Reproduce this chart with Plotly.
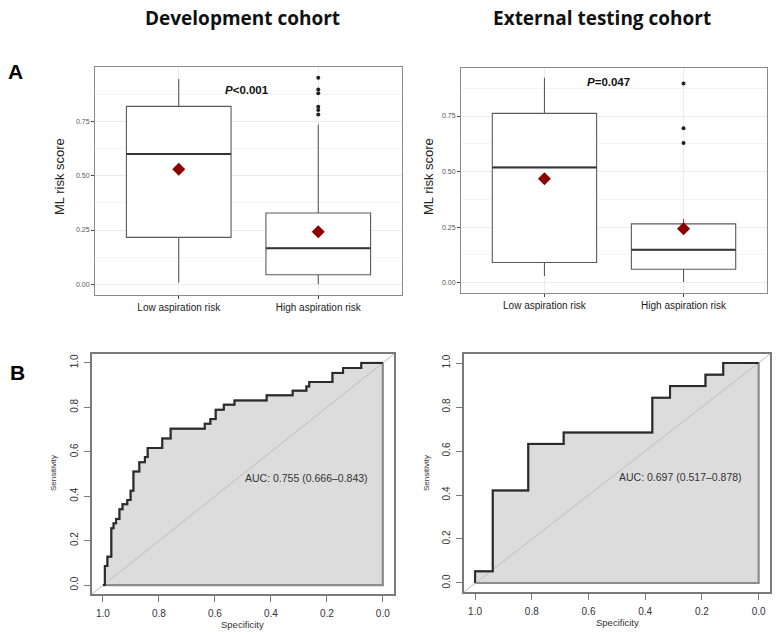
import plotly.graph_objects as go

W, H = 778, 634

# ---------------- data ----------------
categories = ["Low aspiration risk", "High aspiration risk"]

dev_q1 = [0.216, 0.044]
dev_median = [0.600, 0.166]
dev_q3 = [0.819, 0.328]
dev_lower = [0.009, 0.000]
dev_upper = [0.945, 0.736]
dev_mean = [0.529, 0.242]
dev_outliers_high = [0.951, 0.897, 0.879, 0.817, 0.802, 0.782]

ext_q1 = [0.091, 0.061]
ext_median = [0.519, 0.149]
ext_q3 = [0.762, 0.265]
ext_lower = [0.031, 0.004]
ext_upper = [0.922, 0.288]
ext_mean = [0.468, 0.243]
ext_outliers_high = [0.896, 0.695, 0.629]

dev_spec = [1.0, 0.993, 0.984, 0.970, 0.962, 0.953, 0.941, 0.930, 0.913, 0.901,
            0.891, 0.870, 0.850, 0.840, 0.788, 0.758, 0.636, 0.616, 0.597, 0.568,
            0.530, 0.415, 0.322, 0.273, 0.263, 0.180, 0.142, 0.077, 0.0]
dev_sens = [0.0, 0.086, 0.128, 0.256, 0.278, 0.298, 0.341, 0.364, 0.383, 0.425,
            0.511, 0.553, 0.576, 0.617, 0.660, 0.704, 0.726, 0.747, 0.789, 0.812,
            0.831, 0.854, 0.875, 0.894, 0.914, 0.955, 0.977, 1.0, 1.0]

ext_spec = [1.0, 1.0, 0.9375, 0.8125, 0.6875, 0.375, 0.3125, 0.1875, 0.125, 0.0]
ext_sens = [0.0, 0.053, 0.421, 0.632, 0.684, 0.842, 0.895, 0.947, 1.0, 1.0]

dev_auc_text = "AUC: 0.755 (0.666–0.843)"
ext_auc_text = "AUC: 0.697 (0.517–0.878)"
roc_ticks = [1.0, 0.8, 0.6, 0.4, 0.2, 0.0]
box_ticks = [0.0, 0.25, 0.5, 0.75]

BOX_W = 0.75

# ---------------- helpers ----------------
def xd(a, b):
    return [a / W, b / W]

def yd(top, bottom):
    return [1 - bottom / H, 1 - top / H]

def px(x):
    return x / W

def py(y):
    return 1 - y / H

fig = go.Figure()

def add_box_panel(xa, ya, q1, med, q3, lo, hi, mean, outl):
    for i in range(len(categories)):
        fig.add_trace(go.Box(
            x=[i], q1=[q1[i]], median=[med[i]], q3=[q3[i]],
            lowerfence=[lo[i]], upperfence=[hi[i]],
            width=BOX_W, whiskerwidth=0, boxpoints=False,
            fillcolor="white", line=dict(color="#5a5a5a", width=1.1),
            xaxis=xa, yaxis=ya, showlegend=False, hoverinfo="skip"))
        fig.add_trace(go.Scatter(
            x=[i - BOX_W / 2, i + BOX_W / 2], y=[med[i], med[i]],
            mode="lines", line=dict(color="#333333", width=2),
            xaxis=xa, yaxis=ya, showlegend=False, hoverinfo="skip"))
    fig.add_trace(go.Scatter(
        x=[1] * len(outl), y=outl, mode="markers",
        marker=dict(color="#222222", size=4),
        xaxis=xa, yaxis=ya, showlegend=False))
    fig.add_trace(go.Scatter(
        x=list(range(len(categories))), y=mean, mode="markers",
        marker=dict(color="#8B0000", size=10, symbol="diamond"),
        xaxis=xa, yaxis=ya, showlegend=False))

add_box_panel("x", "y", dev_q1, dev_median, dev_q3, dev_lower, dev_upper, dev_mean, dev_outliers_high)
add_box_panel("x2", "y2", ext_q1, ext_median, ext_q3, ext_lower, ext_upper, ext_mean, ext_outliers_high)

def add_roc_panel(xa, ya, spec, sens, xr, yr):
    # polygon (area under curve)
    fig.add_trace(go.Scatter(
        x=spec + [0.0, 1.0], y=sens + [0.0, 0.0], mode="lines",
        line=dict(color="#8c8c8c", width=2.2, shape="hv"),
        fill="toself", fillcolor="#DCDCDC",
        xaxis=xa, yaxis=ya, showlegend=False, hoverinfo="skip"))
    # diagonal reference
    fig.add_trace(go.Scatter(
        x=[xr[0], xr[1]], y=[yr[0], yr[1]], mode="lines",
        line=dict(color="#BDBDBD", width=1),
        xaxis=xa, yaxis=ya, showlegend=False, hoverinfo="skip"))
    # ROC curve
    fig.add_trace(go.Scatter(
        x=spec, y=sens, mode="lines",
        line=dict(color="#2b2b2b", width=2, shape="hv"),
        xaxis=xa, yaxis=ya, showlegend=False))

add_roc_panel("x3", "y3", dev_spec, dev_sens, [1.039, -0.04], [-0.04, 1.04])
add_roc_panel("x4", "y4", ext_spec, ext_sens, [1.039, -0.04], [-0.041, 1.041])

# ---------------- axes ----------------
box_x = dict(tickmode="array", tickvals=[0, 1], ticktext=categories,
             range=[-0.6, 1.6], showgrid=True, gridcolor="#EBEBEB", gridwidth=1,
             showline=True, mirror=True, linecolor="#8a8a8a", linewidth=1,
             ticks="outside", ticklen=3, tickcolor="#444444",
             tickfont=dict(family="Liberation Sans", size=10, color="#1a1a1a"),
             zeroline=False)
box_y = dict(tickmode="array", tickvals=box_ticks,
             ticktext=["0.00", "0.25", "0.50", "0.75"],
             showgrid=True, gridcolor="#EBEBEB", gridwidth=1,
             minor=dict(tickmode="array", tickvals=[0.125, 0.375, 0.625, 0.875],
                        showgrid=True, gridcolor="#F4F4F4", gridwidth=0.6, ticks=""),
             showline=True, mirror=True, linecolor="#8a8a8a", linewidth=1,
             ticks="outside", ticklen=3, tickcolor="#444444",
             tickfont=dict(family="Liberation Sans", size=7, color="#555555"),
             zeroline=False)

roc_x = dict(tickmode="array", tickvals=roc_ticks,
             ticktext=["1.0", "0.8", "0.6", "0.4", "0.2", "0.0"],
             showgrid=False, zeroline=False,
             showline=True, mirror=True, linecolor="#7a7a7a", linewidth=1.5,
             ticks="outside", ticklen=6, tickcolor="#7a7a7a", tickwidth=1.2,
             ticklabelstandoff=3,
             tickfont=dict(family="Liberation Sans", size=10, color="#333333"))
roc_y = dict(tickmode="array", tickvals=roc_ticks,
             ticktext=["1.0", "0.8", "0.6", "0.4", "0.2", "0.0"],
             showgrid=False, zeroline=False, tickangle=-90,
             showline=True, mirror=True, linecolor="#7a7a7a", linewidth=1.5,
             ticks="outside", ticklen=6, tickcolor="#7a7a7a", tickwidth=1.2,
             ticklabelstandoff=2,
             tickfont=dict(family="Liberation Sans", size=10, color="#333333"))

fig.update_layout(
    width=W, height=H, margin=dict(l=0, r=0, t=0, b=0),
    paper_bgcolor="white", plot_bgcolor="white",
    xaxis=dict(box_x, domain=xd(95, 402), anchor="y"),
    yaxis=dict(box_y, domain=yd(67, 295), range=[-0.049, 1.0], anchor="x"),
    xaxis2=dict(box_x, domain=xd(461, 767), anchor="y2"),
    yaxis2=dict(box_y, domain=yd(68, 293), range=[-0.046, 0.966], anchor="x2"),
    xaxis3=dict(roc_x, domain=xd(92, 394), range=[1.039, -0.04], anchor="y3"),
    yaxis3=dict(roc_y, domain=yd(354, 594), range=[-0.04, 1.04], anchor="x3"),
    xaxis4=dict(roc_x, domain=xd(464, 770), range=[1.039, -0.04], anchor="y4"),
    yaxis4=dict(roc_y, domain=yd(354, 592), range=[-0.041, 1.041], anchor="x4"),
)

ann = []
def text(x, y, t, size, color="#111111", family="Liberation Sans", angle=0, bold=False):
    ann.append(dict(x=px(x), y=py(y), xref="paper", yref="paper", text=(f"<b>{t}</b>" if bold else t),
                    showarrow=False, textangle=angle, xanchor="center", yanchor="middle",
                    font=dict(family=family, size=size, color=color)))

text(242, 18, "Development cohort", 19, "#111111", "Open Sans", bold=True)
text(602, 18, "External testing cohort", 19, "#111111", "Open Sans", bold=True)
text(16, 72, "A", 21, "#000000", "Liberation Sans", bold=True)
text(17, 372, "B", 21, "#000000", "Liberation Sans", bold=True)
text(59, 177, "ML risk score", 13, "#222222", angle=-90)
text(428, 177, "ML risk score", 13, "#222222", angle=-90)
text(247, 90, "<i>P</i>&lt;0.001", 11.5, "#111111", bold=True)
text(608, 82, "<i>P</i>=0.047", 11.5, "#111111", bold=True)
text(306, 478, dev_auc_text, 10.5, "#333333")
text(680, 477, ext_auc_text, 10.5, "#333333")
text(53, 473, "Sensitivity", 8, "#333333", angle=-90)
text(426, 473, "Sensitivity", 8, "#333333", angle=-90)
text(243, 624, "Specificity", 9.5, "#333333")
text(617, 622, "Specificity", 9.5, "#333333")
fig.update_layout(annotations=ann)

fig.write_html("out.html")
